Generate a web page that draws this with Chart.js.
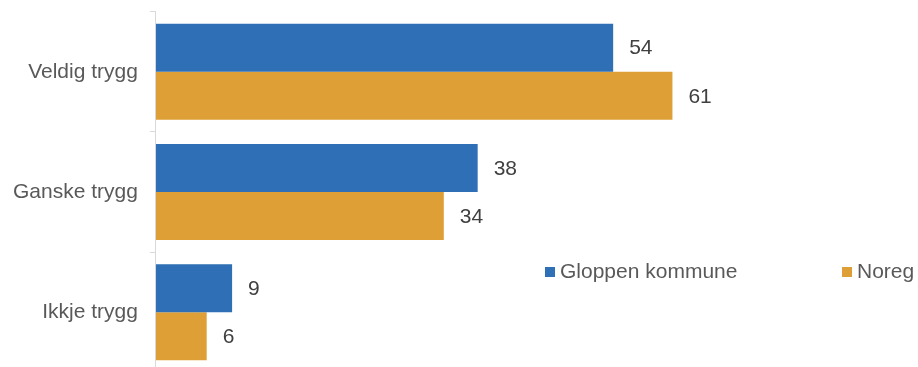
<!DOCTYPE html>
<html>
<head>
<meta charset="utf-8">
<script src="https://cdn.jsdelivr.net/npm/chart.js@4/dist/chart.umd.min.js"></script>
<style>
  html, body { margin: 0; padding: 0; overflow: hidden; background: #fff; }
  #wrap { width: 918px; height: 410px; margin-top: -13px; }
</style>
</head>
<body>
<div id="wrap"><canvas id="bars"></canvas></div>
<script>
var categories = ["Veldig trygg", "Ganske trygg", "Ikkje trygg"];
var gloppen = [54, 38, 9];
var noreg = [61, 34, 6];
var seriesNames = ["Gloppen kommune", "Noreg"];

// value labels at the end of each bar
var valueLabels = {
  id: 'valueLabels',
  afterDatasetsDraw: function(chart) {
    var c = chart.ctx;
    c.save();
    c.font = '21px "Liberation Sans", Arial, sans-serif';
    c.fillStyle = '#404040';
    c.textBaseline = 'middle';
    c.textAlign = 'left';
    chart.data.datasets.forEach(function(ds, i) {
      chart.getDatasetMeta(i).data.forEach(function(bar, j) {
        c.fillText(ds.data[j], bar.x + 16, bar.y + 1);
      });
    });
    c.restore();
  }
};

// legend sitting inside the plot, like the original
var innerLegend = {
  id: 'innerLegend',
  afterDraw: function(chart) {
    var c = chart.ctx;
    var spots = [545, 842];
    var y = 285;
    c.save();
    c.font = '21px "Liberation Sans", Arial, sans-serif';
    c.textBaseline = 'middle';
    chart.data.datasets.forEach(function(ds, i) {
      c.fillStyle = ds.backgroundColor;
      c.fillRect(spots[i], y - 5, 10, 10);
      c.fillStyle = '#595959';
      c.fillText(ds.label, spots[i] + 15, y);
    });
    c.restore();
  }
};

var ctx = document.getElementById("bars").getContext('2d');
var myChart = new Chart(ctx, {
  type: 'bar',
  data: {
    labels: categories,
    datasets: [{
      label: seriesNames[0],
      data: gloppen,
      backgroundColor: '#2E6FB5'
    }, {
      label: seriesNames[1],
      data: noreg,
      backgroundColor: '#DF9F37'
    }]
  },
  options: {
    indexAxis: 'y',
    responsive: true,
    maintainAspectRatio: false,
    animation: false,
    layout: { padding: { top: 0, left: 1, right: 0, bottom: 0 } },
    categoryPercentage: 0.8,
    barPercentage: 1.0,
    plugins: {
      legend: { display: false },
      tooltip: { enabled: false }
    },
    scales: {
      x: {
        display: false,
        min: 0,
        max: 90
      },
      y: {
        grid: {
          offset: true,
          drawOnChartArea: false,
          tickLength: 6,
          color: '#d9d9d9'
        },
        border: { color: '#d9d9d9', width: 1 },
        ticks: {
          padding: 12,
          color: '#595959',
          font: { family: '"Liberation Sans", Arial, sans-serif', size: 21 }
        }
      }
    }
  },
  plugins: [valueLabels, innerLegend]
});
</script>
</body>
</html>
